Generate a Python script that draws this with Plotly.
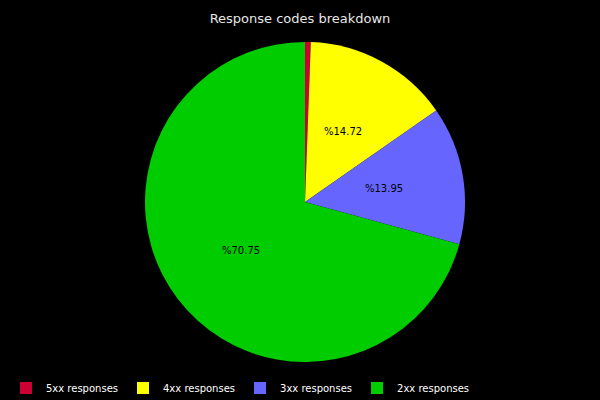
import math
import plotly.graph_objects as go

categories = ["5xx responses", "4xx responses", "3xx responses", "2xx responses"]
percentages = [0.58, 14.72, 13.95, 70.75]
colors = ["#CC0033", "#FFFF00", "#6666FF", "#00CC00"]

W, H = 600, 400
ML, MR, MT, MB = 10, 0, 42, 38
plot_w, plot_h = W - ML - MR, H - MT - MB
radius_px = min(plot_w, plot_h) / 2

fig = go.Figure(go.Pie(
    labels=categories,
    values=percentages,
    textinfo="none",
    marker=dict(colors=colors, line=dict(width=0)),
    sort=False,
    direction="clockwise",
    rotation=0,
    hoverinfo="label+percent",
))

# percentage labels at half radius along each slice's middle angle
total = sum(percentages)
cum = 0.0
for v in percentages:
    mid = (cum + v / 2) / total * 2 * math.pi
    cum += v
    if v < 2:
        continue
    x = 0.5 + 0.5 * radius_px * math.sin(mid) / plot_w
    y = 0.5 + 0.5 * radius_px * math.cos(mid) / plot_h
    fig.add_annotation(x=x, y=y, xref="paper", yref="paper", showarrow=False,
                       xanchor="center", yanchor="middle",
                       text="%" + f"{v:.2f}",
                       font=dict(family="DejaVu Sans", size=10, color="#000000"))

fig.update_layout(
    width=W, height=H,
    paper_bgcolor="#000000", plot_bgcolor="#000000",
    margin=dict(l=ML, r=MR, t=MT, b=MB, autoexpand=False),
    title=dict(text="Response codes breakdown", x=0.5, xanchor="center",
               y=0.953, yanchor="middle",
               font=dict(family="DejaVu Sans", size=13, color="#E6E6E6")),
    legend=dict(orientation="h", x=-0.0068, xanchor="left",
                y=-0.081, yanchor="middle", yref="paper",
                font=dict(family="DejaVu Sans", size=10, color="#FFFFFF"),
                itemwidth=30, tracegroupgap=0),
    showlegend=True,
)

fig.write_html("out.html")
